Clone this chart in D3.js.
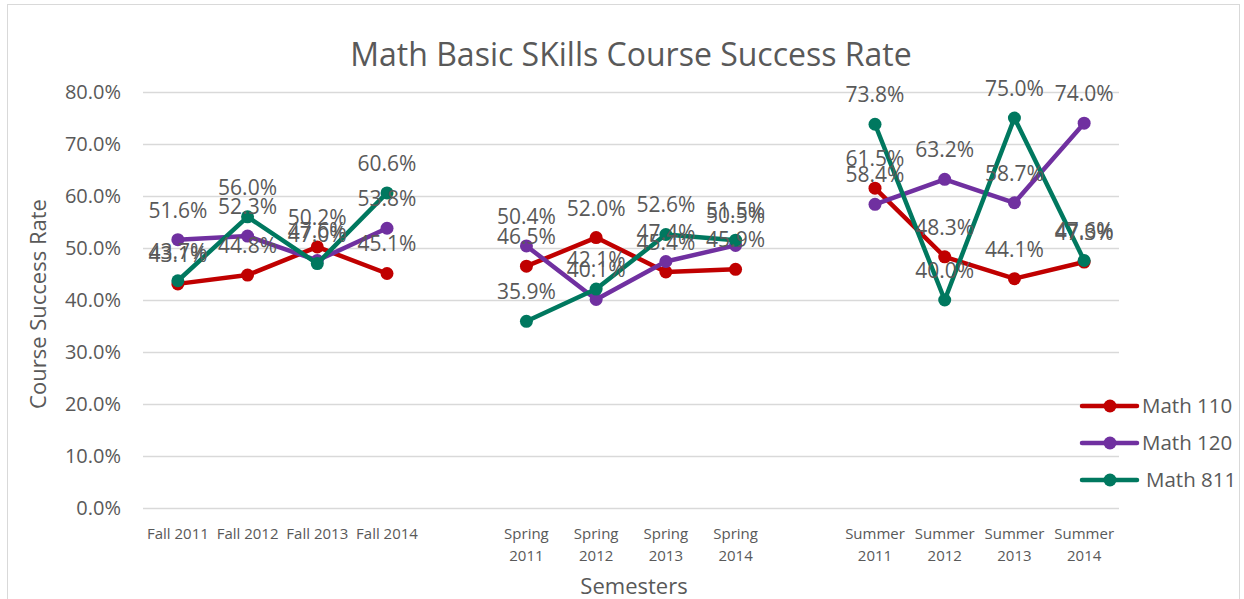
<!DOCTYPE html>
<html>
<head>
<meta charset="utf-8">
<script src="https://cdn.jsdelivr.net/npm/d3@7"></script>
<style>
  body { margin: 0; background: #fff; }
  text { font-family: "Open Sans", sans-serif; fill: #595959; }
</style>
</head>
<body>
<div id="chart"></div>
<script>
// categories (blank slots separate the terms)
const categories = [
    ["Fall 2011"], ["Fall 2012"], ["Fall 2013"], ["Fall 2014"], [],
    ["Spring", "2011"], ["Spring", "2012"], ["Spring", "2013"], ["Spring", "2014"], [],
    ["Summer", "2011"], ["Summer", "2012"], ["Summer", "2013"], ["Summer", "2014"]
];
const math110 = [43.1, 44.8, 50.2, 45.1, null, 46.5, 52.0, 45.4, 45.9, null, 61.5, 48.3, 44.1, 47.3];
const math120 = [51.6, 52.3, 47.6, 53.8, null, 50.4, 40.1, 47.4, 50.5, null, 58.4, 63.2, 58.7, 74.0];
const math811 = [43.7, 56.0, 47.0, 60.6, null, 35.9, 42.1, 52.6, 51.5, null, 73.8, 40.0, 75.0, 47.6];
const seriesNames = ["Math 110", "Math 120", "Math 811"];
const seriesColors = ["#c00000", "#7030a0", "#00785f"];
const yTicks = [0, 10, 20, 30, 40, 50, 60, 70, 80];

const series = [math110, math120, math811].map((vals, i) => ({
    name: seriesNames[i], color: seriesColors[i], values: vals
}));

const width = 1244, height = 599;
const margin = { left: 143, right: 125, top: 92, bottom: 91 };

const svg = d3.select("#chart").append("svg")
    .attr("width", width)
    .attr("height", height);

// outer chart border
svg.append("rect")
    .attr("x", 7.5).attr("y", 4.5)
    .attr("width", width - 12).attr("height", height)
    .attr("fill", "none").attr("stroke", "#d9d9d9");

const x = d3.scaleBand()
    .domain(d3.range(categories.length))
    .range([margin.left, width - margin.right]);

const y = d3.scaleLinear()
    .domain([0, 80])
    .range([height - margin.bottom, margin.top]);

// gridlines
svg.append("g")
    .selectAll("line")
    .data(yTicks)
    .enter()
    .append("line")
    .attr("x1", margin.left).attr("x2", width - margin.right)
    .attr("y1", d => y(d) + 0.5).attr("y2", d => y(d) + 0.5)
    .attr("stroke", "#d9d9d9").attr("stroke-width", 1.3);

// y axis labels
svg.append("g")
    .selectAll("text")
    .data(yTicks)
    .enter()
    .append("text")
    .attr("x", 121)
    .attr("y", d => y(d))
    .attr("dy", "0.35em")
    .attr("text-anchor", "end")
    .style("font-size", "20px")
    .text(d => d.toFixed(1) + "%");

// x axis labels
const xl = svg.append("g")
    .selectAll("text")
    .data(categories)
    .enter()
    .append("text")
    .attr("text-anchor", "middle")
    .style("font-size", "15px")
    .attr("transform", (d, i) => "translate(" + (x(i) + x.bandwidth() / 2) + ",539)");
xl.selectAll("tspan")
    .data(d => d)
    .enter()
    .append("tspan")
    .attr("x", 0)
    .attr("y", (d, i) => i * 22)
    .text(d => d);

// lines
const line = d3.line()
    .defined(d => d != null)
    .x((d, i) => x(i) + x.bandwidth() / 2)
    .y(d => y(d));

const g = svg.append("g");
series.forEach(s => {
    g.append("path")
        .datum(s.values)
        .attr("fill", "none")
        .attr("stroke", s.color)
        .attr("stroke-width", 4.5)
        .attr("stroke-linejoin", "round")
        .attr("d", line);

    g.selectAll(null)
        .data(s.values.map((v, i) => ({ v: v, i: i })).filter(d => d.v != null))
        .enter()
        .append("circle")
        .attr("cx", d => x(d.i) + x.bandwidth() / 2)
        .attr("cy", d => y(d.v))
        .attr("r", 6.5)
        .attr("fill", s.color);
});

// data labels
series.forEach(s => {
    svg.append("g")
        .selectAll("text")
        .data(s.values.map((v, i) => ({ v: v, i: i })).filter(d => d.v != null))
        .enter()
        .append("text")
        .attr("x", d => x(d.i) + x.bandwidth() / 2)
        .attr("y", d => y(d.v) - 22)
        .attr("text-anchor", "middle")
        .style("font-size", "21px")
        .text(d => d.v.toFixed(1) + "%");
});

// title
svg.append("text")
    .attr("x", 631).attr("y", 66)
    .attr("text-anchor", "middle")
    .style("font-size", "32px")
    .text("Math Basic SKills Course Success Rate");

// axis titles
svg.append("text")
    .attr("x", 634).attr("y", 594)
    .attr("text-anchor", "middle")
    .style("font-size", "22px")
    .text("Semesters");

svg.append("text")
    .attr("transform", "translate(46,304) rotate(-90)")
    .attr("text-anchor", "middle")
    .style("font-size", "22px")
    .text("Course Success Rate");

// legend
const legend = svg.append("g")
    .selectAll("g")
    .data(series)
    .enter()
    .append("g")
    .attr("transform", (d, i) => "translate(1082," + (406 + i * 37) + ")");
legend.append("line")
    .attr("x1", 0).attr("x2", 55)
    .attr("stroke", d => d.color)
    .attr("stroke-width", 4.5)
    .attr("stroke-linecap", "round");
legend.append("circle")
    .attr("cx", 28).attr("r", 6.5)
    .attr("fill", d => d.color);
legend.append("text")
    .attr("x", (d, i) => i == 2 ? 64 : 60)
    .attr("dy", "0.35em")
    .style("font-size", "20.5px")
    .text(d => d.name);
</script>
</body>
</html>
